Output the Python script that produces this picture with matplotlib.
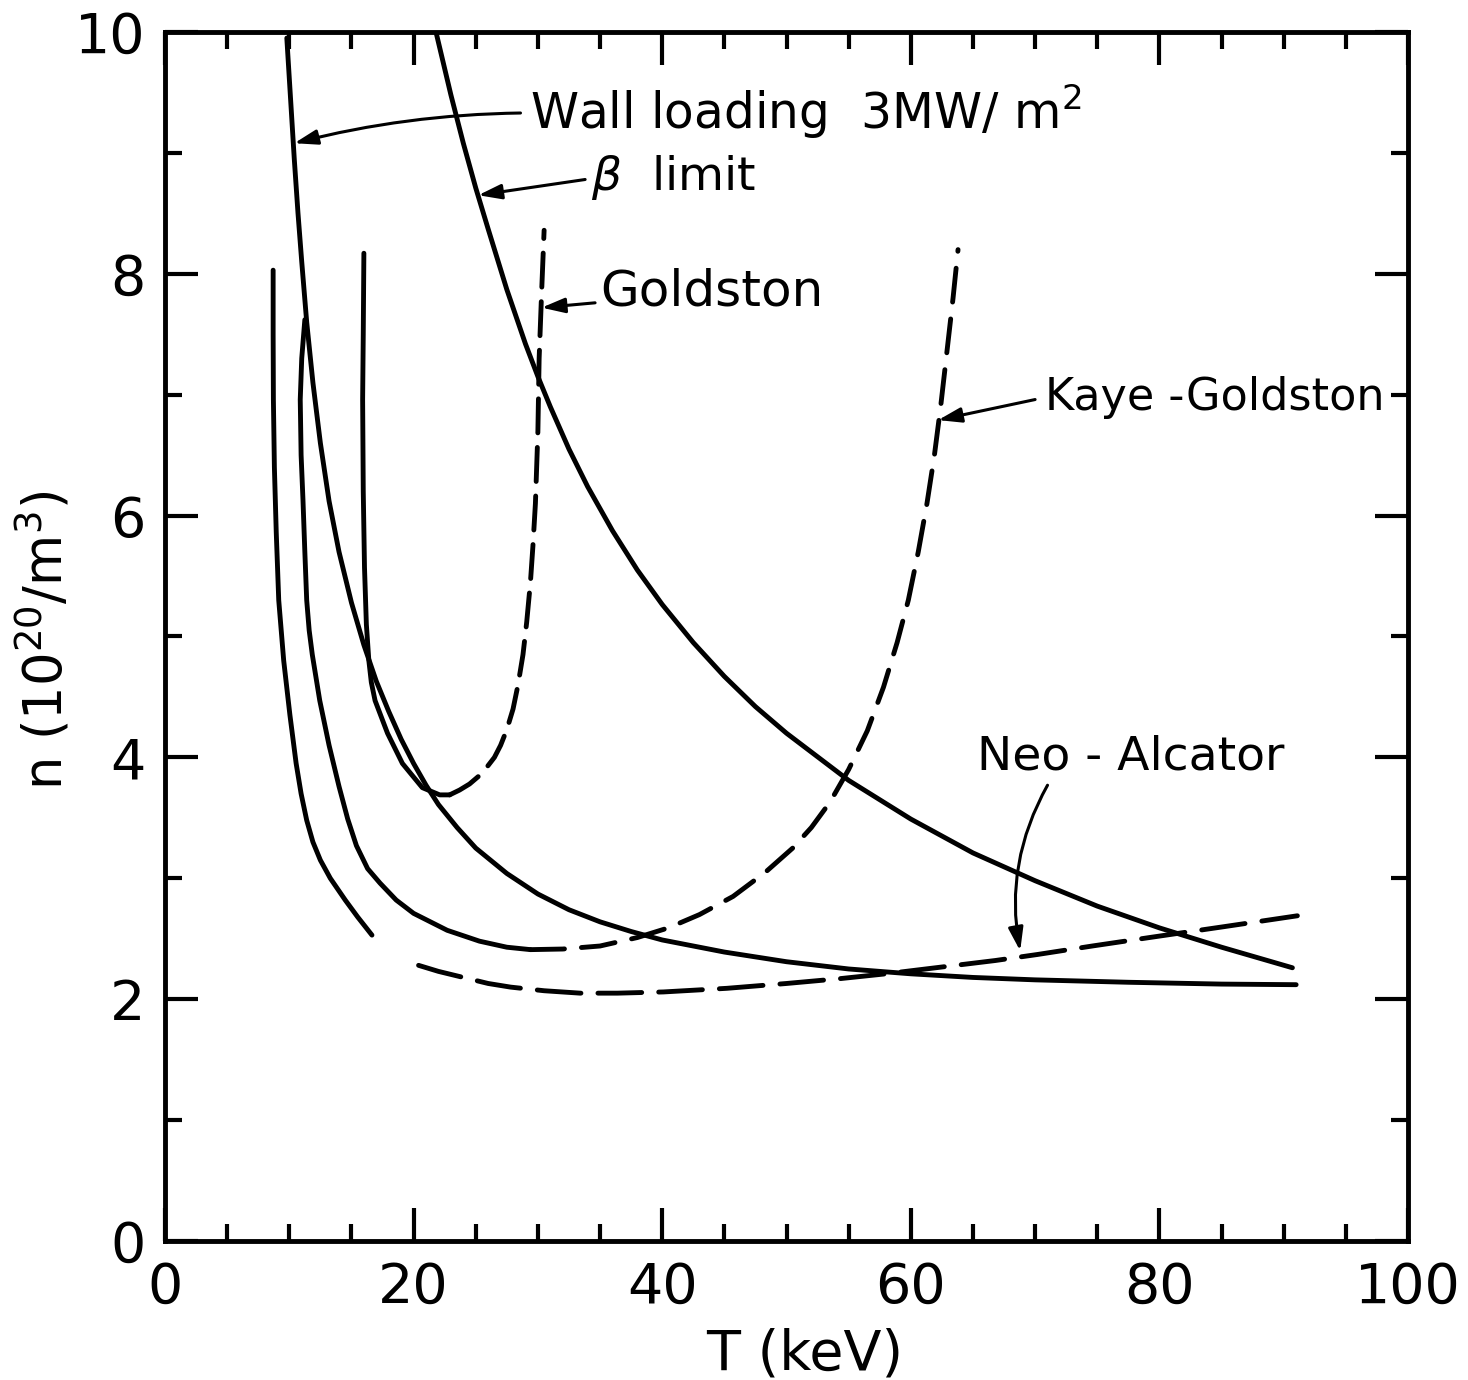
import matplotlib
matplotlib.use("Agg")
import matplotlib.pyplot as plt
from matplotlib.ticker import MultipleLocator

# valores: T en keV, n en 10^20 m^-3
T_pared = [9.8, 10.1, 10.4, 10.7, 11.0, 11.4, 11.9, 12.5, 13.2, 14.0, 15.0,
           16.0, 17.0, 18.0, 19.0, 20.0, 21.0, 22.0, 23.5, 25.0, 27.5, 30.0,
           32.5, 35.0, 37.5, 40.0, 45.0, 50.0, 55.0, 60.0, 65.0, 70.0, 77.5,
           85.0, 91.0]
n_pared = [9.95, 9.45, 8.95, 8.50, 8.10, 7.60, 7.10, 6.60, 6.12, 5.70, 5.28,
           4.93, 4.63, 4.38, 4.15, 3.95, 3.77, 3.61, 3.42, 3.25, 3.04, 2.87,
           2.74, 2.64, 2.56, 2.49, 2.39, 2.31, 2.25, 2.21, 2.18, 2.16, 2.14,
           2.125, 2.12]

T_beta = [21.8, 23.0, 24.0, 25.0, 26.0, 27.5, 29.0, 30.0, 31.0, 32.5, 34.0,
          36.0, 38.0, 40.0, 42.5, 45.0, 47.5, 50.0, 55.0, 60.0, 65.0, 70.0,
          75.0, 80.0, 85.0, 90.7]
n_beta = [10.0, 9.48, 9.08, 8.71, 8.37, 7.87, 7.42, 7.15, 6.90, 6.55, 6.24,
          5.875, 5.55, 5.265, 4.95, 4.67, 4.42, 4.20, 3.81, 3.49, 3.21, 2.98,
          2.77, 2.59, 2.43, 2.26]

# curva solida izquierda, sigue en trazos como Neo-Alcator
T_neo_sol = [8.7, 8.7, 8.72, 8.8, 8.95, 9.15, 9.55, 10.05, 10.55, 10.95, 11.4,
             11.9, 12.5, 13.3, 14.5, 15.5, 16.65]
n_neo_sol = [8.03, 7.50, 6.96, 6.40, 5.86, 5.30, 4.80, 4.35, 3.95, 3.70, 3.48,
             3.30, 3.15, 3.00, 2.82, 2.68, 2.53]
T_neo_dash = [20.4, 22.0, 24.0, 26.0, 27.8, 30.5, 33.4, 36.4, 40.1, 45.2, 50.0,
              54.3, 58.0, 62.0, 66.8, 70.2, 74.6, 79.2, 85.2, 91.1]
n_neo_dash = [2.28, 2.23, 2.18, 2.13, 2.10, 2.07, 2.05, 2.05, 2.06, 2.09, 2.13,
              2.17, 2.21, 2.26, 2.32, 2.37, 2.44, 2.51, 2.60, 2.69]

# curva solida intermedia, sigue en trazos como Kaye-Goldston
T_kg_sol = [11.25, 11.0, 10.88, 10.95, 11.1, 11.25, 11.4, 11.6, 11.85, 12.45,
            13.2, 14.0, 14.7, 15.4, 16.3, 17.3, 18.6, 20.0, 22.7, 25.3, 27.5,
            29.4]
n_kg_sol = [7.62, 7.30, 6.96, 6.50, 6.13, 5.70, 5.30, 5.05, 4.85, 4.47,
            4.10, 3.76, 3.49, 3.27, 3.08, 2.96, 2.82, 2.71, 2.57, 2.48, 2.43,
            2.41]
T_kg_dash = [29.4, 32.0, 35.0, 38.0, 40.5, 43.0, 45.7, 48.3, 50.5, 52.0, 53.5,
             55.0, 56.5, 57.8, 58.9, 59.8, 60.6, 61.3, 61.9, 62.4, 62.9, 63.4,
             63.8]
n_kg_dash = [2.41, 2.415, 2.44, 2.51, 2.59, 2.70, 2.85, 3.05, 3.25, 3.42, 3.63,
             3.90, 4.22, 4.58, 4.95, 5.30, 5.70, 6.10, 6.50, 6.90, 7.35, 7.80,
             8.20]

# curva solida vertical en T~16, sigue en trazos como Goldston
T_gol_sol = [16.0, 15.95, 15.9, 15.95, 16.05, 16.2, 16.4, 16.6, 16.9, 17.9,
             19.1, 20.7, 22.1, 22.9]
n_gol_sol = [8.17, 7.50, 6.96, 6.20, 5.57, 5.10, 4.80, 4.62, 4.47, 4.20,
             3.95, 3.75, 3.69, 3.69]
T_gol_dash = [22.9, 23.7, 24.5, 25.3, 25.9, 26.5, 27.0, 27.5, 28.0, 28.4, 28.8,
              29.1, 29.4, 29.6, 29.8, 30.0, 30.1, 30.3, 30.5]
n_gol_dash = [3.69, 3.73, 3.78, 3.85, 3.92, 4.00, 4.10, 4.23, 4.40, 4.60, 4.85,
              5.12, 5.45, 5.75, 6.10, 6.70, 7.30, 7.85, 8.36]

plt.rcParams["font.family"] = ["DejaVu Sans"]
plt.rcParams["mathtext.fontset"] = "dejavusans"

fig = plt.figure(figsize=(14.68, 13.8), dpi=100)
ax = fig.add_axes([165 / 1468, 1 - 1241 / 1380, 1243 / 1468, 1209 / 1380])

lw = 3.5
for T, n in [(T_pared, n_pared), (T_beta, n_beta), (T_neo_sol, n_neo_sol),
             (T_kg_sol, n_kg_sol), (T_gol_sol, n_gol_sol)]:
    ax.plot(T, n, color="black", lw=lw, solid_capstyle="round",
            solid_joinstyle="round")

ax.plot(T_neo_dash, n_neo_dash, color="black", lw=lw, dashes=(9, 3.5),
        dash_capstyle="round")
ax.plot(T_kg_dash, n_kg_dash, color="black", lw=lw, dashes=(7, 3.5),
        dash_capstyle="round")
ax.plot(T_gol_dash, n_gol_dash, color="black", lw=lw, dashes=(7, 3.0),
        dash_capstyle="round")

ax.set_xlim(0, 100)
ax.set_ylim(0, 10)
ax.xaxis.set_major_locator(MultipleLocator(20))
ax.xaxis.set_minor_locator(MultipleLocator(5))
ax.yaxis.set_major_locator(MultipleLocator(2))
ax.yaxis.set_minor_locator(MultipleLocator(1))
ax.tick_params(which="both", direction="in", top=True, right=True, width=3,
               labelsize=40, color="black")
ax.tick_params(which="major", length=24, pad=14)
ax.tick_params(which="minor", length=12)
for lado in ax.spines.values():
    lado.set_linewidth(3.5)

ax.set_xlabel("T (keV)", fontsize=40, va="center")
ax.set_ylabel(r"n (10$^{20}$/m$^3$)", fontsize=38, va="center")
ax.xaxis.set_label_coords(0.515, -0.094)
ax.yaxis.set_label_coords(-0.097, 0.497)

flecha = dict(arrowstyle="-|>,head_length=1.4,head_width=0.45", color="black",
              lw=2.2, shrinkA=0, shrinkB=0)
fs = 34
ax.annotate("", xy=(10.4, 9.08), xytext=(28.6, 9.33),
            arrowprops=dict(flecha, connectionstyle="arc3,rad=0.06"))
ax.text(29.4, 9.34, r"Wall loading  3MW/ m$^2$", fontsize=35, va="center")

ax.annotate("", xy=(25.2, 8.65), xytext=(33.8, 8.78), arrowprops=flecha)
ax.text(34.3, 8.80, r"$\beta$  limit", fontsize=fs, va="center")

ax.annotate("", xy=(30.3, 7.72), xytext=(34.6, 7.76), arrowprops=flecha)
ax.text(35.0, 7.85, "Goldston", fontsize=36, va="center")

ax.annotate("", xy=(62.2, 6.79), xytext=(70.0, 6.96), arrowprops=flecha)
ax.text(70.8, 6.98, "Kaye -Goldston", fontsize=32, va="center")

ax.annotate("", xy=(68.8, 2.40), xytext=(71.0, 3.77),
            arrowprops=dict(flecha, connectionstyle="arc3,rad=0.18"))
ax.text(65.3, 4.00, "Neo - Alcator", fontsize=fs, va="center")

fig.savefig("out.png", dpi=100)
